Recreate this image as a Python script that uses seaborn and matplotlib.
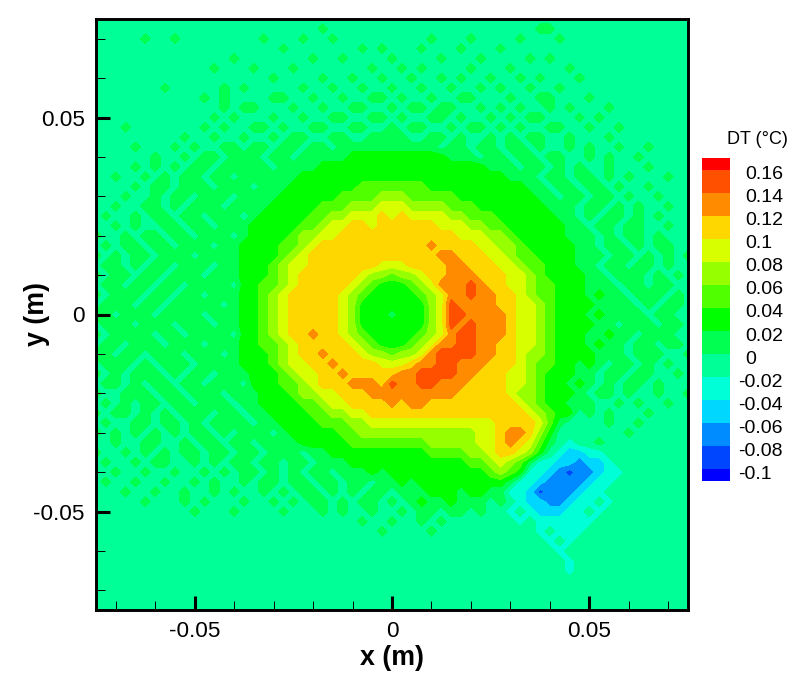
import numpy as np
import matplotlib
matplotlib.use("Agg")
import matplotlib.pyplot as plt
import matplotlib.transforms as mtrans
from matplotlib.colors import ListedColormap, BoundaryNorm
import seaborn as sns

# DT field, in hundredths of a degree, top row first.
# Values name the middle of the colour band seen at that spot.
dt_rows = [
[-1,-1,-1,-1,-1,-1,-1,-1,-1,-1, -1,-1,-1,-1,-1,-1,-1,-1,-1,-1, -1,-1,-1,-1,-1,-1,-1,-1,-1,-1, -1,-1,-1,-1,-1,-1,-1,-1,-1,-1, -1,-1,-1,-1,-1,-1,-1,-1,-1,-1, -1,-1,-1,-1,-1,-1,-1,-1,-1,-1, -1],
[-1,-1,-1,-1,-1,-1,-1,-1,-1,-1, -1,-1,-1,-1,-1,-1,-1,-1,-1,-1, -1,-1,-1, 1,-1,-1,-1,-1,-1,-1, -1,-1,-1,-1,-1,-1,-1,-1,-1,-1, -1,-1,-1,-1,-1, 1, 1,-1,-1,-1, -1,-1,-1,-1,-1,-1,-1,-1,-1,-1, -1],
[-1,-1,-1,-1,-1, 1,-1,-1, 1,-1, -1,-1,-1,-1,-1,-1,-1, 1,-1,-1, -1, 1,-1,-1, 1,-1,-1,-1,-1,-1, -1,-1,-1,-1, 1,-1,-1,-1, 1,-1, -1,-1,-1, 1,-1,-1,-1, 1,-1,-1, -1,-1,-1,-1,-1,-1,-1,-1,-1,-1, -1],
[-1,-1,-1,-1,-1,-1,-1,-1,-1,-1, -1,-1,-1,-1,-1,-1,-1,-1,-1, 1, -1,-1,-1,-1,-1,-1,-1, 1,-1, 1, -1,-1,-1, 1,-1,-1,-1, 1,-1,-1, -1, 1,-1,-1,-1,-1,-1,-1,-1,-1, -1,-1,-1,-1,-1,-1,-1,-1,-1,-1, -1],
[-1,-1,-1,-1,-1,-1,-1,-1,-1,-1, -1,-1,-1,-1, 1,-1,-1,-1,-1,-1, -1,-1, 1,-1,-1, 1,-1,-1,-1,-1,  1,-1,-1,-1,-1, 1,-1,-1,-1, 1, -1,-1,-1,-1, 1,-1, 1,-1,-1,-1, -1,-1,-1,-1,-1,-1,-1,-1,-1,-1, -1],
[-1,-1,-1,-1,-1,-1,-1,-1,-1,-1, -1,-1, 1,-1,-1,-1, 1,-1,-1,-1,  1,-1,-1,-1,-1,-1,-1,-1, 1,-1, -1, 1,-1, 1,-1,-1,-1,-1, 1,-1, -1,-1, 1,-1,-1,-1,-1,-1, 1,-1, -1,-1,-1,-1,-1,-1,-1,-1,-1,-1, -1],
[-1,-1,-1,-1,-1,-1,-1,-1,-1,-1, -1,-1,-1,-1,-1,-1,-1,-1, 1,-1, -1,-1,-1, 1,-1,-1, 1,-1,-1, 1, -1,-1, 1,-1,-1, 1,-1, 1,-1,-1,  1,-1,-1, 1,-1, 1,-1,-1,-1, 1, -1,-1,-1,-1,-1,-1,-1,-1,-1,-1, -1],
[-1,-1,-1,-1,-1,-1,-1, 1,-1,-1, -1,-1,-1, 1,-1, 1,-1,-1,-1,-1, -1, 1,-1,-1, 1,-1,-1, 1,-1,-1,  1,-1,-1, 1,-1,-1, 1,-1,-1, 1, -1, 1,-1,-1, 1,-1,-1, 1,-1,-1, -1,-1,-1,-1,-1,-1,-1,-1,-1,-1, -1],
[-1,-1,-1,-1,-1,-1,-1,-1,-1,-1, -1, 1,-1, 1,-1,-1,-1,-1, 1, 1, -1,-1, 1,-1,-1, 1,-1,-1, 1, 1, -1, 1,-1,-1, 1,-1,-1, 1, 1,-1, -1,-1, 1,-1,-1, 1, 1,-1,-1,-1,  1,-1,-1,-1,-1,-1,-1,-1,-1,-1, -1],
[-1,-1,-1,-1,-1,-1,-1,-1,-1,-1, -1,-1,-1, 1,-1, 1, 1,-1,-1,-1,  1,-1,-1, 1,-1,-1, 1, 1,-1,-1,  1,-1, 1, 1,-1, 1, 1,-1,-1, 1, -1, 1,-1, 1,-1,-1, 1,-1, 1,-1, -1,-1, 1,-1,-1,-1,-1,-1,-1,-1, -1],
[-1,-1,-1,-1,-1,-1,-1,-1,-1,-1, -1,-1, 1,-1, 1,-1,-1,-1, 1,-1, -1, 1,-1,-1, 1, 1,-1,-1, 1, 1, -1, 1,-1,-1, 1, 1,-1, 1,-1,-1,  1,-1, 1,-1, 1, 1,-1,-1,-1, 1, -1, 1,-1,-1,-1,-1,-1,-1,-1,-1, -1],
[-1,-1,-1, 1,-1,-1,-1,-1,-1,-1, -1, 1,-1, 1,-1,-1, 1, 1,-1, 1, -1,-1, 1, 1,-1,-1, 1, 1,-1,-1,  1,-1, 1, 1,-1,-1, 1,-1, 1, 1, -1, 1,-1, 1,-1,-1, 1, 1,-1,-1,  1,-1,-1, 1,-1,-1,-1,-1,-1,-1, -1],
[-1,-1,-1,-1,-1,-1,-1,-1,-1, 1, -1,-1, 1,-1,-1, 1,-1,-1, 1,-1,  1, 1,-1,-1, 1, 1,-1,-1, 1, 1,  1, 1,-1,-1, 1, 1,-1, 1,-1,-1,  1,-1, 1,-1, 1, 1,-1,-1, 1,-1, -1,-1, 1,-1,-1,-1,-1,-1,-1,-1, -1],
[-1,-1,-1,-1, 1,-1,-1,-1, 1,-1,  1,-1,-1, 1, 1,-1, 1, 1,-1, 1,  1,-1, 1, 1,-1, 1, 1, 1, 1, 1,  1, 1, 1, 1, 1,-1, 1, 1,-1, 1,  1,-1, 1, 1,-1, 1,-1,-1, 1,-1,  1,-1,-1, 1,-1,-1, 1,-1,-1,-1, -1],
[-1,-1,-1,-1,-1,-1, 1,-1,-1, 1, -1, 1, 1,-1, 1, 1, 1,-1, 1, 1, -1, 1, 1, 1, 1, 1, 3, 3, 3, 3,  3, 3, 3, 3, 3, 3, 1, 1, 1,-1,  1, 1,-1, 1, 1,-1, 1, 1,-1,-1,  1,-1, 1,-1,-1, 1,-1,-1,-1,-1, -1],
[-1,-1,-1,-1, 1,-1, 1,-1, 1,-1,  1, 1,-1, 1, 1, 1, 1, 1,-1, 1,  1, 1, 1, 3, 3, 3, 3, 3, 3, 3,  3, 3, 3, 3, 3, 3, 3, 3, 3, 3,  1, 1, 1,-1, 1, 1,-1, 1,-1, 1, -1,-1, 1,-1,-1,-1, 1,-1,-1,-1, -1],
[-1,-1, 1,-1,-1, 1,-1, 1,-1, 1,  1,-1, 1, 1,-1, 1, 1, 1, 1, 1,  1, 3, 3, 3, 3, 3, 3, 3, 3, 3,  3, 3, 3, 3, 3, 3, 3, 3, 3, 3,  3, 3, 1, 1, 1,-1, 1, 1,-1, 1,  1,-1, 1,-1, 1,-1,-1,-1, 1,-1, -1],
[-1,-1,-1,-1, 1,-1, 1, 1,-1, 1,  1, 1,-1, 1, 1, 1,-1, 1, 1, 1,  3, 3, 3, 3, 3, 3, 3, 5, 5, 5,  5, 5, 5, 5, 3, 3, 3, 3, 3, 3,  3, 3, 3, 3, 1, 1,-1, 1, 1,-1,  1, 1,-1, 1,-1,-1, 1,-1,-1,-1, -1],
[-1,-1,-1, 1,-1,-1, 1,-1, 1, 1, -1, 1, 1, 1,-1, 1, 1, 1, 1, 3,  3, 3, 3, 3, 3, 5, 5, 5, 5, 7,  7, 7, 5, 5, 5, 5, 5, 3, 3, 3,  3, 3, 3, 3, 3, 1, 1,-1, 1, 1, -1, 1, 1,-1, 1,-1,-1, 1,-1,-1, -1],
[-1,-1, 1,-1,-1, 1, 1,-1, 1,-1,  1, 1, 1,-1, 1, 1, 1, 1, 3, 3,  3, 3, 3, 5, 5, 5, 7, 7, 7, 9,  9, 9, 7, 7, 7, 7, 5, 5, 5, 3,  3, 3, 3, 3, 3, 3, 1, 1, 1,-1,  1, 1,-1, 1,-1, 1,-1,-1, 1,-1, -1],
[-1, 1,-1,-1, 1,-1, 1, 1,-1, 1,  1,-1, 1, 1, 1,-1, 1, 3, 3, 3,  3, 3, 5, 5, 7, 7, 9, 9, 9,11,  9,11, 9, 9, 9, 9, 7, 7, 5, 5,  5, 3, 3, 3, 3, 3, 3, 1, 1,-1,  1,-1, 1, 1,-1, 1,-1, 1,-1,-1, -1],
[-1,-1, 1,-1, 1,-1,-1, 1, 1,-1,  1, 1,-1, 1, 1, 1, 3, 3, 3, 3,  3, 5, 5, 7, 9, 9,11,11, 9,11, 11,11,11,11,11, 9, 9, 9, 7, 7,  5, 5, 3, 3, 3, 3, 3, 3, 1, 1, -1, 1, 1,-1, 1, 1,-1,-1, 1,-1, -1],
[ 1,-1,-1, 1,-1, 1, 1,-1, 1, 1, -1, 1, 1, 1,-1, 1, 3, 3, 3, 3,  5, 7, 7, 9, 9,11,11,11,11,11, 11,11,11,11,11,11,11, 9, 9, 9,  7, 7, 5, 3, 3, 3, 3, 3, 1, 1,  1,-1, 1,-1, 1, 1,-1, 1,-1,-1, -1],
[-1, 1,-1, 1, 1,-1, 1, 1,-1, 1,  1, 1,-1, 1, 1, 3, 3, 3, 3, 5,  5, 7, 9,11,11,11,11,11,11,11, 11,11,11,11,13,11,11,11,11, 9,  9, 7, 7, 5, 3, 3, 3, 3, 3, 1,  1,-1, 1, 1,-1, 1,-1, 1, 1,-1, -1],
[ 1,-1, 1,-1, 1, 1,-1, 1, 1, 1, -1, 1, 1, 1, 1, 3, 3, 3, 3, 5,  7, 9,11,11,11,11,11,11,11,11, 11,11,11,11,11,13,13,11,11,11,  9, 9, 7, 5, 5, 3, 3, 3, 3, 1,  1, 1,-1, 1, 1,-1, 1,-1, 1,-1,  1],
[-1, 1, 1,-1, 1,-1, 1, 1,-1, 1,  1, 1,-1, 1, 1, 3, 3, 3, 5, 7,  9, 9,11,11,11,11,11,11,11, 9,  9, 9,11,11,11,11,13,13,11,11, 11, 9, 9, 7, 5, 5, 3, 3, 3, 1,  1,-1, 1, 1,-1, 1, 1,-1, 1,-1, -1],
[ 1,-1, 1, 1,-1, 1, 1,-1, 1, 1,  1,-1, 1, 1, 1, 3, 3, 3, 5, 7,  9,11,11,11,11,11,11, 9, 7, 7,  5, 7, 7, 9,11,11,13,13,13,11, 11,11, 9, 9, 7, 5, 3, 3, 3, 3,  1, 1,-1, 1, 1, 1,-1, 1,-1, 1, -1],
[-1, 1, 1,-1, 1, 1,-1, 1, 1,-1,  1, 1, 1, 1,-1, 3, 3, 5, 5, 7,  9,11,11,11,11,11, 9, 7, 5, 3,  3, 3, 5, 7, 9,13,13,13,15,13, 11,11, 9, 9, 7, 5, 5, 3, 3, 3,  1, 1, 1,-1, 1, 1,-1, 1, 1,-1, -1],
[ 1,-1, 1, 1, 1,-1, 1, 1,-1, 1,  1,-1, 1, 1, 1, 3, 3, 5, 7, 9, 11,11,11,11,11, 9, 7, 5, 3, 3,  3, 3, 3, 5, 7, 9,13,13,15,13, 13,11,11, 9, 7, 5, 5, 3, 3, 3,  1, 3, 1, 1,-1, 1, 1, 1,-1, 1, -1],
[-1, 1, 1, 1,-1, 1, 1,-1, 1, 1,  1, 1, 1,-1, 1, 3, 3, 5, 7, 9, 11,11,11,11,11, 9, 7, 3, 3, 3,  3, 3, 3, 3, 7, 9,15,13,13,13, 13,11,11, 9, 9, 7, 5, 3, 3, 3,  3, 1, 1, 1, 1,-1, 1,-1, 1, 1, -1],
[ 1, 1,-1, 1, 1, 1,-1, 1, 1, 1,  1,-1, 1, 1, 1, 3, 3, 5, 7, 9, 11,11,11,11,11, 9, 7, 3, 3, 3,  1, 3, 3, 3, 7, 9,15,15,13,13, 13,13,11, 9, 9, 7, 5, 3, 3, 3,  1, 3, 1, 1, 1, 1,-1, 1, 1,-1, -1],
[-1, 1, 1, 1,-1, 1, 1, 1,-1, 1,  1, 1,-1, 1, 1, 3, 3, 5, 7, 9, 11,11,11,11,11, 9, 7, 3, 3, 3,  3, 3, 3, 3, 7, 9,15,13,15,13, 13,13,11, 9, 9, 7, 5, 3, 3, 3,  3, 1, 1,-1, 1, 1, 1,-1, 1, 1, -1],
[ 1,-1, 1, 1, 1, 1,-1, 1, 1,-1,  1, 1, 1, 1,-1, 3, 3, 5, 7, 9, 11,11,13,11,11, 9, 7, 5, 3, 3,  3, 3, 3, 5, 7, 9,13,15,15,13, 13,13,11, 9, 9, 7, 5, 3, 3, 3,  1, 1, 3, 1, 1,-1, 1, 1, 1,-1, -1],
[-1, 1, 1,-1, 1, 1, 1,-1, 1, 1,  1,-1, 1, 1, 1, 3, 3, 5, 5, 7,  9,11,11,11,11,11, 9, 7, 5, 3,  3, 3, 5, 7, 9,13,13,15,15,13, 13,11,11, 9, 9, 7, 5, 3, 3, 3,  1, 3, 1, 1,-1, 1, 1,-1, 1, 1, -1],
[ 1, 1,-1, 1, 1,-1, 1, 1, 1,-1,  1, 1, 1,-1, 1, 3, 3, 3, 5, 7,  9,11,11,13,11,11,11, 9, 7, 7,  5, 7, 7, 9,13,15,15,15,15,13, 13,11,11, 9, 7, 7, 5, 3, 3, 3,  3, 1, 1, 1,-1, 1, 1, 1,-1,-1,  1],
[-1, 1, 1, 1,-1, 1,-1, 1, 1, 1, -1, 1, 1, 1, 1, 3, 3, 3, 5, 7,  9, 9,11,11,13,11,11,11,11, 9,  9, 9,11,13,13,15,15,13,13,13, 11,11,11, 9, 7, 5, 5, 3, 3, 1,  3, 1,-1, 1, 1,-1, 1,-1, 1,-1, -1],
[ 1,-1, 1,-1, 1, 1, 1,-1, 1,-1,  1, 1,-1, 1, 1, 1, 3, 3, 3, 5,  7, 9, 9,11,11,13,11,11,11,11, 11,13,13,15,15,15,15,13,13,11, 11,11, 9, 9, 7, 5, 3, 3, 3, 1,  1,-1, 1, 1,-1, 1, 1,-1,-1, 1, -1],
[-1, 1, 1,-1, 1,-1, 1, 1,-1, 1,  1,-1, 1, 1, 1,-1, 3, 3, 3, 5,  5, 7, 9,11,11,11,13,13,13,11, 15,13,13,15,15,13,13,13,11,11, 11,11, 9, 9, 7, 5, 3, 3, 1, 3,  1,-1, 1,-1, 1, 1,-1, 1,-1,-1, -1],
[ 1,-1,-1, 1, 1, 1,-1, 1, 1,-1,  1, 1, 1,-1, 1, 1, 1, 3, 3, 3,  5, 7, 7, 9, 9,11,11,11,13,13, 13,13,13,13,13,13,13,11,11,11, 11,11, 9, 7, 7, 5, 3, 3, 3, 1, -1, 1, 1,-1, 1,-1,-1, 1,-1,-1,  1],
[-1, 1,-1, 1,-1, 1, 1,-1, 1, 1, -1, 1, 1, 1,-1, 1, 1, 3, 3, 3,  3, 5, 5, 7, 9, 9,11,11,11,11, 13,11,13,13,11,11,11,11,11,11, 11,11,11, 9, 7, 5, 3, 3, 1, 1,  1,-1,-1, 1,-1, 1,-1,-1, 1,-1, -1],
[ 1,-1, 1, 1,-1, 1,-1, 1,-1, 1,  1, 1,-1, 1, 1,-1, 1, 1, 3, 3,  3, 3, 5, 5, 7, 7, 9, 9,11,11, 11,11,11,11,11,11,11,11,11,11, 11,11,11,11, 9, 7, 5, 3, 3,-1,  1,-1, 1,-1,-1,-1, 1,-1,-1,-1, -1],
[-1, 1,-1,-1, 1, 1,-1, 1, 1,-1,  1,-1, 1, 1, 1, 1,-1, 1, 1, 3,  3, 3, 3, 5, 5, 5, 7, 7, 9, 9,  9, 9, 9, 9, 9, 9, 9, 9, 9, 9,  9,11,11,11,11, 9, 5, 1,-1,-1, -1,-1, 1,-1,-1, 1,-1,-1,-1,-1, -1],
[ 1,-1, 1,-1, 1,-1, 1,-1, 1,-1,  1, 1,-1, 1,-1, 1, 1, 1,-1, 1,  3, 3, 3, 3, 3, 5, 5, 7, 7, 7,  7, 7, 7, 7, 7, 7, 7, 7, 7, 9,  9,11,13,13,11, 7, 3,-1,-1,-1, -1,-1,-1,-1, 1,-1,-1,-1,-1,-1, -1],
[-1,-1, 1,-1,-1, 1, 1,-1,-1, 1, -1, 1, 1,-1, 1, 1,-1, 1, 1, 1,  1, 3, 3, 3, 3, 3, 5, 5, 5, 5,  5, 5, 5, 5, 7, 7, 7, 7, 7, 9,  9,11,13,11, 9, 5, 1,-1,-3,-1, -1, 1,-1,-1,-1,-1,-1,-1,-1,-1, -1],
[ 1,-1,-1, 1,-1, 1,-1, 1,-1, 1,  1,-1, 1, 1,-1, 1, 1,-1, 1, 1,  1,-1, 1, 1, 3, 3, 3, 3, 3, 3,  3, 3, 3, 3, 5, 5, 5, 5, 7, 7,  9,11,11, 9, 7, 3,-1,-3,-5,-5, -3,-3,-1,-1,-1,-1,-1,-1,-1,-1, -1],
[-1, 1,-1,-1, 1,-1, 1, 1,-1,-1,  1,-1, 1,-1, 1, 1,-1, 1, 1,-1,  1, 1,-1, 1, 1, 1, 3, 3, 3, 3,  3, 3, 3, 3, 3, 3, 3, 3, 5, 5,  7, 9, 7, 5, 1,-3,-3,-5,-5,-7, -5,-5,-3,-1,-1,-1,-1,-1,-1,-1, -1],
[-1,-1, 1,-1,-1, 1,-1,-1, 1,-1, -1, 1,-1, 1,-1, 1, 1,-1, 1,-1,  1,-1, 1, 1,-1, 1, 1, 1, 3, 1,  3, 3, 3, 3, 3, 3, 3, 3, 3, 3,  5, 7, 5, 3,-3,-3,-5,-7,-9,-7, -7,-5,-3,-3,-1,-1,-1,-1,-1,-1, -1],
[-1, 1,-1,-1, 1,-1,-1, 1,-1,-1,  1,-1, 1,-1,-1, 1,-1, 1, 1,-1,  1, 1,-1, 1, 1,-1, 1, 1,-1, 1,  1, 3, 1, 3, 3, 3, 3, 3, 3, 3,  3, 3, 1,-3,-3,-5,-7,-7,-7,-7, -5,-3,-3,-1,-1,-1,-1,-1,-1,-1, -1],
[-1,-1,-1, 1,-1,-1, 1,-1,-1, 1, -1,-1, 1,-1, 1,-1,-1, 1,-1, 1, -1, 1, 1,-1, 1,-1, 1,-1, 1, 1, -1, 1, 1, 1, 3, 3, 3, 1, 3, 3,  1, 1,-3,-3,-5,-9,-7,-7,-7,-5, -3,-3,-1,-1,-1,-1,-1,-1,-1,-1, -1],
[-1,-1,-1,-1,-1, 1,-1,-1,-1, 1, -1, 1,-1,-1,-1, 1,-1,-1, 1,-1,  1,-1, 1, 1,-1, 1,-1, 1, 1,-1,  1,-1, 1, 3, 1, 1, 3, 1, 1, 1, -1, 1,-1,-3,-5,-5,-7,-7,-5,-3, -3,-1,-3,-1,-1,-1,-1,-1,-1,-1, -1],
[-1,-1,-1,-1,-1,-1,-1,-1,-1,-1,  1,-1,-1,-1, 1,-1,-1,-1,-1, 1, -1,-1,-1, 1,-1, 1,-1,-1, 1,-1, -1, 1,-1, 1, 1,-1, 1, 1,-1, 1, -1,-1,-3,-1,-3,-5,-5,-5,-3,-3, -1,-3,-1,-1,-1,-1,-1,-1,-1,-1, -1],
[-1,-1,-1,-1,-1,-1,-1,-1,-1,-1, -1,-1,-1,-1,-1,-1,-1,-1,-1,-1, -1,-1,-1,-1,-1,-1,-1, 1,-1,-1,  1,-1,-1, 1,-1, 1,-1,-1,-1,-1, -1,-1,-1,-3,-1,-3,-3,-3,-3,-3, -3,-1,-1,-1,-1,-1,-1,-1,-1,-1, -1],
[-1,-1,-1,-1,-1,-1,-1,-1,-1,-1, -1,-1,-1,-1,-1,-1,-1,-1,-1,-1, -1,-1,-1,-1,-1,-1,-1,-1,-1, 1, -1,-1,-1,-1, 1,-1,-1,-1,-1,-1, -1,-1,-1,-1,-1,-3,-1,-3,-3,-3, -1,-1,-1,-1,-1,-1,-1,-1,-1,-1, -1],
[-1,-1,-1,-1,-1,-1,-1,-1,-1,-1, -1,-1,-1,-1,-1,-1,-1,-1,-1,-1, -1,-1,-1,-1,-1,-1,-1,-1,-1,-1, -1,-1,-1,-1,-1,-1,-1,-1,-1,-1, -1,-1,-1,-1,-1,-1,-3,-1,-3,-1, -1,-1,-1,-1,-1,-1,-1,-1,-1,-1, -1],
[-1,-1,-1,-1,-1,-1,-1,-1,-1,-1, -1,-1,-1,-1,-1,-1,-1,-1,-1,-1, -1,-1,-1,-1,-1,-1,-1,-1,-1,-1, -1,-1,-1,-1,-1,-1,-1,-1,-1,-1, -1,-1,-1,-1,-1,-1,-1,-3,-1,-1, -1,-1,-1,-1,-1,-1,-1,-1,-1,-1, -1],
[-1,-1,-1,-1,-1,-1,-1,-1,-1,-1, -1,-1,-1,-1,-1,-1,-1,-1,-1,-1, -1,-1,-1,-1,-1,-1,-1,-1,-1,-1, -1,-1,-1,-1,-1,-1,-1,-1,-1,-1, -1,-1,-1,-1,-1,-1,-1,-1,-3,-1, -1,-1,-1,-1,-1,-1,-1,-1,-1,-1, -1],
[-1,-1,-1,-1,-1,-1,-1,-1,-1,-1, -1,-1,-1,-1,-1,-1,-1,-1,-1,-1, -1,-1,-1,-1,-1,-1,-1,-1,-1,-1, -1,-1,-1,-1,-1,-1,-1,-1,-1,-1, -1,-1,-1,-1,-1,-1,-1,-1,-3,-1, -1,-1,-1,-1,-1,-1,-1,-1,-1,-1, -1],
[-1,-1,-1,-1,-1,-1,-1,-1,-1,-1, -1,-1,-1,-1,-1,-1,-1,-1,-1,-1, -1,-1,-1,-1,-1,-1,-1,-1,-1,-1, -1,-1,-1,-1,-1,-1,-1,-1,-1,-1, -1,-1,-1,-1,-1,-1,-1,-1,-1,-1, -1,-1,-1,-1,-1,-1,-1,-1,-1,-1, -1],
[-1,-1,-1,-1,-1,-1,-1,-1,-1,-1, -1,-1,-1,-1,-1,-1,-1,-1,-1,-1, -1,-1,-1,-1,-1,-1,-1,-1,-1,-1, -1,-1,-1,-1,-1,-1,-1,-1,-1,-1, -1,-1,-1,-1,-1,-1,-1,-1,-1,-1, -1,-1,-1,-1,-1,-1,-1,-1,-1,-1, -1],
[-1,-1,-1,-1,-1,-1,-1,-1,-1,-1, -1,-1,-1,-1,-1,-1,-1,-1,-1,-1, -1,-1,-1,-1,-1,-1,-1,-1,-1,-1, -1,-1,-1,-1,-1,-1,-1,-1,-1,-1, -1,-1,-1,-1,-1,-1,-1,-1,-1,-1, -1,-1,-1,-1,-1,-1,-1,-1,-1,-1, -1],
[-1,-1,-1,-1,-1,-1,-1,-1,-1,-1, -1,-1,-1,-1,-1,-1,-1,-1,-1,-1, -1,-1,-1,-1,-1,-1,-1,-1,-1,-1, -1,-1,-1,-1,-1,-1,-1,-1,-1,-1, -1,-1,-1,-1,-1,-1,-1,-1,-1,-1, -1,-1,-1,-1,-1,-1,-1,-1,-1,-1, -1],
]

level_values = [-0.11, -0.10, -0.08, -0.06, -0.04, -0.02, 0, 0.02, 0.04, 0.06,
                0.08, 0.10, 0.12, 0.14, 0.16, 0.17]
level_labels = ['-0.1', '-0.08', '-0.06', '-0.04', '-0.02', '0', '0.02', '0.04',
                '0.06', '0.08', '0.1', '0.12', '0.14', '0.16']
band_colors = ['#0000ff', '#0046ff', '#008cff', '#00d7ff', '#00ffd7', '#00ff96',
               '#00ff50', '#00ff00', '#50ff00', '#96ff00', '#d7ff00', '#ffd700',
               '#ff8c00', '#ff5000', '#ff0000']
axis_ticks = [-0.05, 0, 0.05]
axis_tick_labels = ['-0.05', '0', '0.05']
minor_ticks = [-0.07, -0.06, -0.04, -0.03, -0.02, -0.01, 0.01, 0.02, 0.03, 0.04, 0.06, 0.07]

sns.set_theme(style='ticks')
plt.rcParams['font.family'] = ['Liberation Sans', 'DejaVu Sans']

W, H = 811, 678
fig = plt.figure(figsize=(W / 100, H / 100), dpi=100)
ax = fig.add_axes([96 / W, 1 - 610 / H, 592 / W, 591 / H])
ax.set_axisbelow(False)

dt = np.array(dt_rows, dtype=float)[::-1] / 100
n = dt.shape[0]
x_nodes = np.linspace(-0.075, 0.075, n)
y_nodes = np.linspace(-0.075, 0.075, n)

cmap = ListedColormap(sns.color_palette(band_colors))
norm = BoundaryNorm(level_values, cmap.N)
cs = ax.contourf(x_nodes, y_nodes, dt, levels=level_values, cmap=cmap, norm=norm)

ax.set_xlim(-0.075, 0.075)
ax.set_ylim(-0.075, 0.075)
ax.set_xticks(axis_ticks, labels=axis_tick_labels)
ax.set_yticks(axis_ticks, labels=axis_tick_labels)
ax.set_xticks(minor_ticks, minor=True)
ax.set_yticks(minor_ticks, minor=True)
ax.tick_params(which='major', direction='in', length=10, width=2.2, labelsize=16.2, pad=8, color='black', labelcolor='black')
ax.tick_params(which='minor', direction='in', length=6.5, width=0.7, color='black')
for s in ax.spines.values():
    s.set_linewidth(2.1)
    s.set_color('black')
    s.set_visible(True)
ax.set_xlabel('x (m)', fontsize=19.3, fontweight='bold', color='black', labelpad=2)
ax.set_ylabel('y (m)', fontsize=19.3, fontweight='bold', color='black')
ax.yaxis.set_label_coords((50 - 96) / 592, 0.5)

cax = fig.add_axes([702 / W, 1 - 481 / H, 28 / W, 323 / H])
cb = fig.colorbar(cs, cax=cax, spacing='proportional')
cb.outline.set_visible(False)
cb.set_ticks(level_values[1:-1], labels=level_labels)
cb.ax.minorticks_off()
cb.ax.tick_params(length=0, labelsize=14, pad=10.8, labelcolor='black')
for lab, txt in zip(cb.ax.get_yticklabels(), level_labels):
    lab.set_ha('left')
    dx = -6.5 / 100 if txt.startswith('-') else 0
    lab.set_transform(lab.get_transform() + mtrans.ScaledTranslation(dx, -3 / 100, fig.dpi_scale_trans))

fig.text(757 / W, 1 - 140 / H, 'DT (°C)', fontsize=13, color='black', ha='center', va='center')

fig.savefig('out.png', dpi=100, facecolor='white')
